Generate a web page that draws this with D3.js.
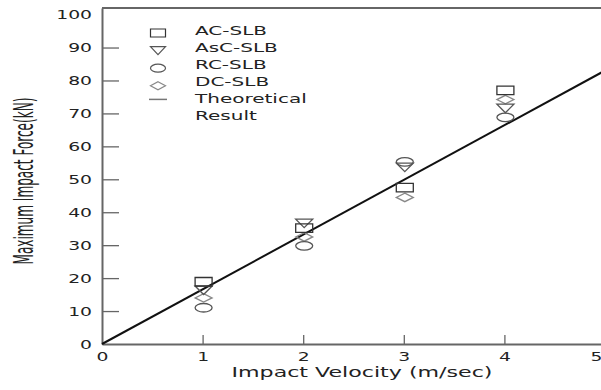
<!DOCTYPE html>
<html>
<head>
<meta charset="utf-8">
<script src="https://cdn.jsdelivr.net/npm/d3@7"></script>
<style>
  body { margin: 0; background: #fff; }
  svg { display: block; }
  text { font-family: 'DejaVu Sans', sans-serif; fill: #222; }
</style>
</head>
<body>
<div class="chart"></div>
<script>
// data
const velocities = [1, 2, 3, 4];
const seriesNames = ['AC-SLB', 'AsC-SLB', 'RC-SLB', 'DC-SLB'];
const acSLB = [18.9, 35.2, 47.5, 77.0];
const ascSLB = [16.3, 36.6, 53.6, 71.5];
const rcSLB = [11.0, 29.8, 55.3, 68.8];
const dcSLB = [14.0, 32.5, 44.5, 74.2];
const theoryV = [0, 5];
const theoryF = [0, 83];
const yTicks = [0, 10, 20, 30, 40, 50, 60, 70, 80, 90, 100];
const xTicks = [0, 1, 2, 3, 4, 5];

const W = 601;
const H = 390;
const x0 = 102;
const xAxisY = 344;

const svg = d3
  .select('.chart')
  .append('svg')
  .attr('width', W)
  .attr('height', H);

const xScale = d3.scaleLinear().domain([0, 5]).range([x0, 605]);
const yScale = d3.scaleLinear().domain([0, 102]).range([xAxisY, 8]);

// stretch text horizontally like the scanned figure
const stretch = (sel, k) => {
  sel.each(function () {
    const w = this.getComputedTextLength();
    d3.select(this)
      .attr('textLength', w * k)
      .attr('lengthAdjust', 'spacingAndGlyphs');
  });
};

const axisColor = '#666';

// y axis
const yAxis = d3
  .axisLeft(yScale)
  .tickValues(yTicks)
  .tickSizeInner(-17)
  .tickSizeOuter(0)
  .tickPadding(10)
  .tickFormat(d3.format('d'));

const gy = svg
  .append('g')
  .attr('transform', `translate(${x0},0)`)
  .call(yAxis);
gy.select('.domain').attr('stroke', axisColor).attr('stroke-width', 2);
gy.selectAll('.tick line')
  .attr('stroke', axisColor)
  .attr('stroke-width', 1.3)
  .attr('opacity', (d) => (d === 0 || d === 100 ? 0 : 1));
gy.selectAll('.tick text')
  .attr('font-size', 12.5)
  .attr('font-family', 'DejaVu Sans')
  .attr('fill', '#222')
  .call(stretch, 1.5);

// x axis
const xAxis = d3
  .axisBottom(xScale)
  .tickValues(xTicks)
  .tickSizeInner(-9)
  .tickSizeOuter(0)
  .tickPadding(8)
  .tickFormat(d3.format('d'));

const gx = svg
  .append('g')
  .attr('transform', `translate(0,${xAxisY})`)
  .call(xAxis);
gx.select('.domain').attr('stroke', axisColor).attr('stroke-width', 2);
gx.selectAll('.tick line')
  .attr('stroke', axisColor)
  .attr('stroke-width', 1.3)
  .attr('opacity', (d) => (d === 0 ? 0 : 1));
gx.selectAll('.tick text')
  .attr('font-size', 12.5)
  .attr('font-family', 'DejaVu Sans')
  .attr('fill', '#222')
  .attr('dx', (d) => (d === 5 ? -9 : 0))
  .call(stretch, 1.5);

// top frame line
svg
  .append('line')
  .attr('x1', x0)
  .attr('x2', W)
  .attr('y1', yScale(102))
  .attr('y2', yScale(102))
  .attr('stroke', axisColor)
  .attr('stroke-width', 2);

// axis titles
svg
  .append('text')
  .attr('x', 362)
  .attr('y', 377)
  .attr('text-anchor', 'middle')
  .attr('font-size', 14.5)
  .text('Impact Velocity (m/sec)')
  .attr('textLength', 261)
  .attr('lengthAdjust', 'spacingAndGlyphs');

// narrow, tall y title: squeeze along its length with a scale
const yTitle = svg
  .append('g')
  .attr('transform', 'translate(33,181) rotate(-90)')
  .append('text')
  .attr('text-anchor', 'middle')
  .attr('font-family', 'Liberation Sans')
  .attr('font-size', 27)
  .text('Maximum Impact Force(kN)');
const yTitleW = yTitle.node().getComputedTextLength();
yTitle.attr('transform', `scale(${167 / yTitleW},1)`);

// theoretical line
const line = d3
  .line()
  .x((d) => xScale(d[0]))
  .y((d) => yScale(d[1]));

svg
  .append('path')
  .datum(theoryV.map((v, i) => [v, theoryF[i]]))
  .attr('d', line)
  .attr('fill', 'none')
  .attr('stroke', '#111')
  .attr('stroke-width', 2);

// stretched marker shapes
const shapes = {
  square: (w, h) => `M${-w / 2},${-h / 2}H${w / 2}V${h / 2}H${-w / 2}Z`,
  triangle: (w, h) => `M${-w / 2},${-h / 2}L${w / 2},${-h / 2}L0,${h / 2}Z`,
  circle: (w, h) =>
    `M${-w / 2},0A${w / 2},${h / 2} 0 1,0 ${w / 2},0A${w / 2},${h / 2} 0 1,0 ${-w / 2},0Z`,
  diamond: (w, h) => `M0,${-h / 2}L${w / 2},0L0,${h / 2}L${-w / 2},0Z`,
};

const series = [
  { name: seriesNames[0], values: acSLB, shape: 'square', color: '#333' },
  { name: seriesNames[1], values: ascSLB, shape: 'triangle', color: '#555' },
  { name: seriesNames[2], values: rcSLB, shape: 'circle', color: '#555' },
  { name: seriesNames[3], values: dcSLB, shape: 'diamond', color: '#888' },
];

series
  .slice()
  .reverse()
  .forEach((s) => {
    svg
      .append('g')
      .selectAll('path')
      .data(velocities)
      .enter()
      .append('path')
      .attr('d', shapes[s.shape](17, 8.5))
      .attr(
        'transform',
        (d, i) => `translate(${xScale(d) + 1},${yScale(s.values[i])})`
      )
      .attr('fill', 'none')
      .attr('stroke', s.color)
      .attr('stroke-width', 1.3);
  });

// legend
const legend = svg.append('g');
const legendX = 158;
const legendY = 33;
const rowH = 17.6;

series.forEach((s, i) => {
  legend
    .append('path')
    .attr('d', shapes[s.shape](15, 8))
    .attr('transform', `translate(${legendX},${legendY + i * rowH})`)
    .attr('fill', 'none')
    .attr('stroke', s.color)
    .attr('stroke-width', 1.2);
});

legend
  .append('line')
  .attr('x1', legendX - 9)
  .attr('x2', legendX + 9)
  .attr('y1', legendY + 4 * rowH - 4)
  .attr('y2', legendY + 4 * rowH - 4)
  .attr('stroke', '#777')
  .attr('stroke-width', 1.5);

const legendLabels = seriesNames.concat(['Theoretical', 'Result']);
legend
  .selectAll('text.lbl')
  .data(legendLabels)
  .enter()
  .append('text')
  .attr('class', 'lbl')
  .attr('x', 195)
  .attr('y', (d, i) => 35 + i * 16.9)
  .attr('font-size', 12.5)
  .text((d) => d)
  .call(stretch, 1.6);
</script>
</body>
</html>
